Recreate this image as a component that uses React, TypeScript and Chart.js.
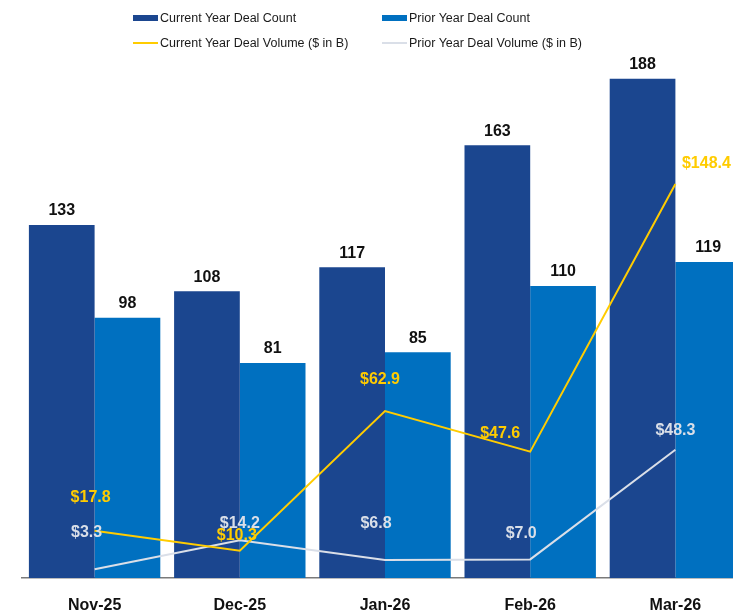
import { useEffect, useRef } from 'react';
import { Chart, registerables, Plugin } from 'chart.js';

Chart.register(...registerables);

const months = ['Nov-25', 'Dec-25', 'Jan-26', 'Feb-26', 'Mar-26'];
const currentCount = [133, 108, 117, 163, 188];
const priorCount = [98, 81, 85, 110, 119];
const currentVolume = [17.8, 10.3, 62.9, 47.6, 148.4];
const priorVolume = [3.3, 14.2, 6.8, 7.0, 48.3];

// nudges (px) for the hand placed volume labels, relative to each point
const currentVolumeNudge = [[-4, -33], [-3, -15], [-5, -31], [-30, -18], [31, -20]];
const priorVolumeNudge = [[-8, -37], [0, -17], [-9, -36], [-9, -26], [0, -19]];

const DARK = '#1B468F';
const LIGHT = '#0070C0';
const YELLOW = '#FFCC00';
const GRAY = '#DADFE8';
const FONT = "'Liberation Sans', Arial, sans-serif";

const legendItems = [
  { text: 'Current Year Deal Count', color: DARK, kind: 'box' },
  { text: 'Prior Year Deal Count', color: LIGHT, kind: 'box' },
  { text: 'Current Year Deal Volume ($ in B)', color: YELLOW, kind: 'line' },
  { text: 'Prior Year Deal Volume ($ in B)', color: GRAY, kind: 'line' },
];

const valueLabels: Plugin<'bar'> = {
  id: 'valueLabels',
  afterDatasetsDraw(chart) {
    const ctx = chart.ctx;
    ctx.save();
    ctx.font = `bold 16px ${FONT}`;
    ctx.textAlign = 'center';
    chart.data.datasets.forEach((ds: any, i) => {
      const meta = chart.getDatasetMeta(i);
      meta.data.forEach((el: any, j) => {
        const v = ds.data[j] as number;
        if (ds.type === 'line') {
          const nudge = ds.nudge[j];
          ctx.fillStyle = ds.borderColor;
          ctx.textBaseline = 'middle';
          ctx.fillText('$' + v.toFixed(1), el.x + nudge[0], el.y + nudge[1]);
        } else {
          ctx.fillStyle = '#111';
          ctx.textBaseline = 'bottom';
          ctx.fillText(String(v), el.x, el.y - 6);
        }
      });
    });
    ctx.restore();
  },
};

export default function App() {
  const chartRef = useRef<HTMLCanvasElement | null>(null);

  useEffect(() => {
    const ctx = chartRef.current?.getContext('2d');
    if (!ctx) return;

    const chart = new Chart(ctx, {
      type: 'bar',
      data: {
        labels: months,
        datasets: [
          {
            type: 'line',
            label: 'Current Year Deal Volume ($ in B)',
            data: currentVolume,
            borderColor: YELLOW,
            borderWidth: 2,
            pointRadius: 0,
            tension: 0,
            order: 0,
            nudge: currentVolumeNudge,
          } as any,
          {
            type: 'line',
            label: 'Prior Year Deal Volume ($ in B)',
            data: priorVolume,
            borderColor: GRAY,
            borderWidth: 2,
            pointRadius: 0,
            tension: 0,
            order: 1,
            nudge: priorVolumeNudge,
          } as any,
          {
            label: 'Current Year Deal Count',
            data: currentCount,
            backgroundColor: DARK,
            categoryPercentage: 0.905,
            barPercentage: 1,
            order: 2,
          },
          {
            label: 'Prior Year Deal Count',
            data: priorCount,
            backgroundColor: LIGHT,
            categoryPercentage: 0.905,
            barPercentage: 1,
            order: 2,
          },
        ],
      },
      options: {
        responsive: true,
        maintainAspectRatio: false,
        animation: false,
        layout: { padding: { top: 47, left: 22, right: 0, bottom: 0 } },
        plugins: {
          legend: { display: false },
          tooltip: { enabled: false },
        },
        scales: {
          x: {
            grid: { display: false, drawTicks: false },
            border: { display: true, color: '#7a7a7a', width: 1.5 },
            ticks: {
              color: '#111',
              padding: 18,
              font: { family: FONT, size: 16, weight: 'bold' },
            },
            afterFit: (scale: any) => {
              scale.height = 33;
            },
          },
          y: {
            display: false,
            min: 0,
            max: 200,
          },
        },
      },
      plugins: [valueLabels],
    });

    return () => chart.destroy();
  }, []);

  return (
    <div style={{ position: 'absolute', left: 0, top: 0, width: 733, height: 611, overflow: 'hidden', background: '#fff' }}>
      <div style={{ position: 'relative', width: 748, height: 611 }}>
        <canvas ref={chartRef}></canvas>
      </div>
      {legendItems.map((item, i) => (
        <div
          key={item.text}
          style={{
            position: 'absolute',
            left: i % 2 === 0 ? 133 : 382,
            top: i < 2 ? 10 : 35,
            height: 16,
            display: 'flex',
            alignItems: 'center',
            fontFamily: FONT,
            fontSize: 12.5,
            color: '#1a1a1a',
            whiteSpace: 'nowrap',
          }}
        >
          <span
            style={{
              display: 'inline-block',
              width: 25,
              height: item.kind === 'box' ? 6 : 2,
              background: item.color,
              marginRight: 2,
            }}
          />
          {item.text}
        </div>
      ))}
    </div>
  );
}
